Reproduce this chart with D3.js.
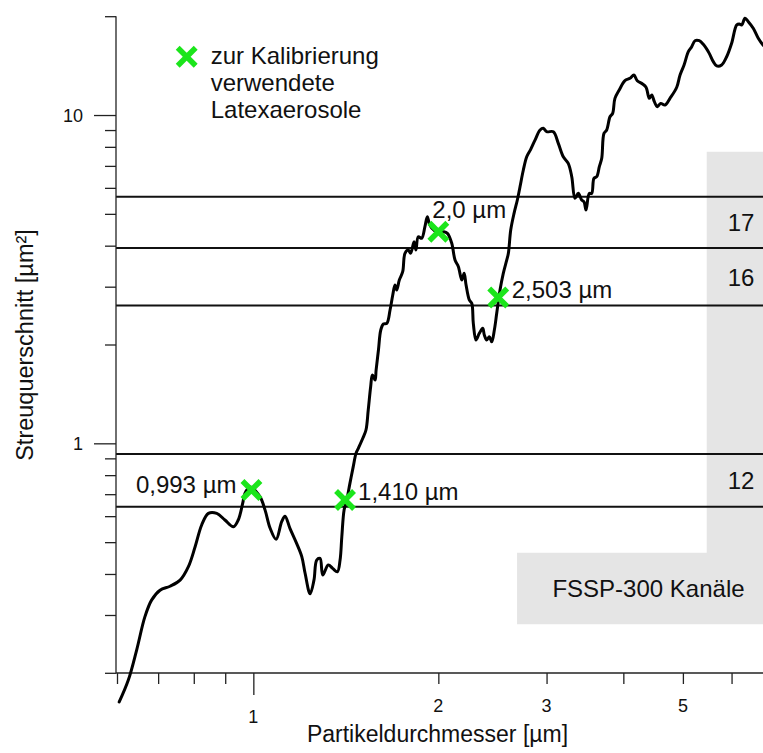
<!DOCTYPE html>
<html>
<head>
<meta charset="utf-8">
<script src="https://cdn.jsdelivr.net/npm/d3@7"></script>
<style>
  html, body { margin: 0; padding: 0; background: #fff; }
  svg { display: block; font-family: "Liberation Sans", Arial, Helvetica, sans-serif; }
</style>
</head>
<body>
<svg id="chart" width="763" height="753"></svg>
<script>
// Response curve: particle diameter (µm) against scattering cross section (µm²)
const diameters = [
  0.605, 0.626, 0.646, 0.666, 0.683, 0.705, 0.732, 0.760, 0.784, 0.804,
  0.824, 0.845, 0.872, 0.899, 0.928, 0.945, 0.961, 0.969, 0.988, 1.025,
  1.045, 1.065, 1.089, 1.112, 1.126, 1.147, 1.176, 1.199, 1.214, 1.237,
  1.255, 1.268, 1.284, 1.297, 1.324, 1.346, 1.370, 1.384, 1.393, 1.405,
  1.419, 1.436, 1.454, 1.469, 1.482, 1.507, 1.525, 1.538, 1.552, 1.562,
  1.578, 1.584, 1.598, 1.612, 1.628, 1.649, 1.669, 1.686, 1.700, 1.711,
  1.728, 1.750, 1.765, 1.787, 1.803, 1.826, 1.839, 1.855, 1.879, 1.902,
  1.919, 1.933, 1.951, 1.988, 2.038, 2.069, 2.103, 2.129, 2.156, 2.184,
  2.203, 2.219, 2.246, 2.267, 2.280, 2.303, 2.332, 2.362, 2.376, 2.398,
  2.421, 2.443, 2.467, 2.489, 2.520, 2.551, 2.584, 2.600, 2.623, 2.656,
  2.689, 2.716, 2.750, 2.785, 2.827, 2.873, 2.928, 2.964, 3.002, 3.077,
  3.135, 3.194, 3.254, 3.297, 3.337, 3.379, 3.422, 3.452, 3.478, 3.521,
  3.553, 3.583, 3.620, 3.656, 3.689, 3.720, 3.758, 3.805, 3.843, 3.876,
  3.939, 4.024, 4.100, 4.162, 4.214, 4.299, 4.355, 4.409, 4.449, 4.493,
  4.543, 4.601, 4.676, 4.764, 4.886, 4.947, 5.022, 5.103, 5.168, 5.233,
  5.317, 5.397, 5.519, 5.603, 5.675, 5.781, 5.891, 6.002, 6.116, 6.176,
  6.232, 6.310, 6.389, 6.508, 6.632, 6.750, 6.929
];
const crossSections = [
  0.163, 0.190, 0.235, 0.296, 0.333, 0.357, 0.367, 0.383, 0.421, 0.484,
  0.564, 0.612, 0.612, 0.584, 0.557, 0.584, 0.657, 0.704, 0.736, 0.688,
  0.626, 0.551, 0.510, 0.577, 0.600, 0.551, 0.496, 0.452, 0.402, 0.348,
  0.383, 0.441, 0.446, 0.397, 0.426, 0.416, 0.406, 0.441, 0.519, 0.626,
  0.672, 0.755, 0.849, 0.932, 0.966, 1.036, 1.098, 1.263, 1.487, 1.614,
  1.559, 1.672, 1.924, 2.214, 2.309, 2.320, 2.547, 2.829, 3.035, 2.931,
  3.144, 3.332, 3.791, 3.880, 3.791, 4.113, 3.880, 4.259, 4.212, 4.568,
  4.899, 4.678, 4.526, 4.410, 4.410, 4.362, 4.067, 3.616, 3.451, 3.144,
  3.295, 3.035, 2.733, 2.669, 2.320, 2.064, 2.163, 2.240, 2.138, 2.064,
  2.112, 2.039, 2.214, 2.489, 2.931, 3.295, 3.616, 3.791, 4.463, 5.018,
  5.509, 6.048, 6.800, 7.464, 7.862, 8.391, 9.000, 9.109, 8.895, 8.895,
  8.199, 7.464, 7.127, 6.489, 5.576, 5.774, 5.509, 5.444, 5.135, 5.774,
  5.774, 6.416, 6.489, 6.959, 7.382, 8.796, 9.000, 9.882, 10.12, 11.24,
  11.92, 12.72, 12.94, 13.24, 12.72, 12.43, 12.15, 11.24, 11.51, 10.98,
  10.60, 10.85, 10.73, 11.24, 12.15, 13.24, 14.21, 15.59, 16.15, 16.84,
  16.84, 16.42, 15.41, 14.54, 14.11, 14.21, 15.05, 16.54, 18.80, 18.93,
  18.80, 19.70, 19.24, 18.37, 17.13, 16.34, 15.56
];

// Latex aerosols used for the calibration
const latexDiameters = [0.993, 1.410, 2.0, 2.503];
const latexSections = [0.721, 0.672, 4.41, 2.78];
const latexLabels = ["0,993 µm", "1,410 µm", "2,0 µm", "2,503 µm"];

// FSSP-300 channel boundaries (cross section, µm²) and the labelled channels
const channelBounds = [0.641, 0.928, 2.629, 3.935, 5.637];
const channelNames = ["12", "16", "17"];
const channelLower = [0.641, 2.629, 3.935];
const channelUpper = [0.928, 3.935, 5.637];

// Axis ticks
const xTickValues = [0.6, 0.7, 0.8, 0.9, 1, 2, 3, 4, 5, 6];
const xMajorTicks = [1];
const xTickLabels = ["1", "2", "3", "5"];
const xLabelValues = [1, 2, 3, 5];
const yTickValues = [0.2, 0.3, 0.4, 0.5, 0.6, 0.7, 0.8, 0.9, 1, 2, 3, 4, 5, 6, 7, 8, 9, 10, 20];
const yMajorTicks = [1, 10];
const yTickLabels = ["1", "10"];

const legendLines = ["zur Kalibrierung", "verwendete", "Latexaerosole"];
const xTitle = "Partikeldurchmesser [µm]";
const yTitle = "Streuquerschnitt [µm²]";
const boxTitle = "FSSP-300 Kanäle";

const svg = d3.select("#chart");
const W = 763, H = 753;
const GREEN = "#1be51b";
const GREY = "#e5e5e5";
const TEXT = "#111";
const NOTE_SIZE = 24;

const x = d3.scaleLog().domain([0.6, 7]).range([117, 772.7]);
const y = d3.scaleLog().domain([0.2, 20]).range([672.8, 16.2]);
const axisX = 116, axisY = 673;

// Grey panel holding the channel numbers
const gx0 = x(5.467), gxBox = x(2.686);
const gyTop = y(7.73), gyStep = y(0.464), gyBottom = y(0.281);
svg.append("path")
  .attr("d", `M${gx0},${gyTop}H${W}V${gyBottom}H${gxBox}V${gyStep}H${gx0}Z`)
  .attr("fill", GREY);
svg.append("text")
  .attr("x", 648.5).attr("y", (gyStep + gyBottom) / 2 + 8.5)
  .attr("text-anchor", "middle").attr("font-size", NOTE_SIZE).attr("fill", TEXT)
  .text(boxTitle);

// Channel boundary lines
svg.append("g").selectAll("line").data(channelBounds).join("line")
  .attr("x1", axisX).attr("x2", W)
  .attr("y1", d => y(d)).attr("y2", d => y(d))
  .attr("stroke", "#111").attr("stroke-width", 2);

// Channel numbers
svg.append("g").selectAll("text").data(channelNames).join("text")
  .attr("x", 741)
  .attr("y", (d, i) => (y(channelLower[i]) + y(channelUpper[i])) / 2 + 9)
  .attr("text-anchor", "middle").attr("font-size", NOTE_SIZE).attr("fill", TEXT)
  .text(d => d);

// Axes
const axisColor = "#222";
const yMinor = d3.axisLeft(y).tickValues(yTickValues.filter(v => !yMajorTicks.includes(v)))
  .tickSize(11).tickFormat("");
const yMajor = d3.axisLeft(y).tickValues(yMajorTicks).tickSize(22).tickFormat("");
const xMinor = d3.axisBottom(x).tickValues(xTickValues.filter(v => !xMajorTicks.includes(v)))
  .tickSize(11).tickFormat("");
const xMajor = d3.axisBottom(x).tickValues(xMajorTicks).tickSize(22).tickFormat("");

function styleAxis(g) {
  g.select(".domain").remove();
  g.selectAll(".tick line").attr("stroke", axisColor).attr("stroke-width", 1.3);
}
svg.append("g").attr("transform", `translate(${axisX},0)`).call(yMinor).call(styleAxis);
svg.append("g").attr("transform", `translate(${axisX},0)`).call(yMajor).call(styleAxis);
svg.append("g").attr("transform", `translate(0,${axisY})`).call(xMinor).call(styleAxis);
svg.append("g").attr("transform", `translate(0,${axisY})`).call(xMajor).call(styleAxis);

svg.append("line").attr("x1", axisX).attr("x2", axisX).attr("y1", y(20)).attr("y2", axisY)
  .attr("stroke", axisColor).attr("stroke-width", 1.3);
svg.append("line").attr("x1", axisX).attr("x2", W).attr("y1", axisY).attr("y2", axisY)
  .attr("stroke", axisColor).attr("stroke-width", 1.3);

// Tick labels
svg.append("g").selectAll("text").data(yTickLabels).join("text")
  .attr("x", 83).attr("y", (d, i) => y(yMajorTicks[i]) + 6.5)
  .attr("text-anchor", "end").attr("font-size", 18).attr("fill", TEXT)
  .text(d => d);
svg.append("g").selectAll("text").data(xTickLabels).join("text")
  .attr("x", (d, i) => x(xLabelValues[i]))
  .attr("y", (d, i) => axisY + (xMajorTicks.includes(xLabelValues[i]) ? 22 : 11) + 28)
  .attr("text-anchor", "middle").attr("font-size", 18).attr("fill", TEXT)
  .text(d => d);

// Axis titles
svg.append("text").attr("x", 437.5).attr("y", 742)
  .attr("text-anchor", "middle").attr("font-size", 23).attr("fill", TEXT)
  .text(xTitle);
svg.append("text").attr("transform", "translate(33,345) rotate(-90)")
  .attr("text-anchor", "middle").attr("font-size", 23.5).attr("fill", TEXT)
  .text(yTitle);

// Response curve
const curve = diameters.map((d, i) => [d, crossSections[i]]);
svg.append("path")
  .datum(curve)
  .attr("d", d3.line().x(d => x(d[0])).y(d => y(d[1])).curve(d3.curveCatmullRom.alpha(0.5)))
  .attr("fill", "none").attr("stroke", "#000").attr("stroke-width", 3)
  .attr("stroke-linejoin", "round").attr("stroke-linecap", "round");

// Calibration markers and their labels
const cross = d3.symbol(d3.symbolX).size(213);
svg.append("g").selectAll("path").data(latexDiameters).join("path")
  .attr("transform", (d, i) => `translate(${x(d)},${y(latexSections[i])})`)
  .attr("d", cross())
  .attr("fill", "none").attr("stroke", GREEN).attr("stroke-width", 5.5);

const labelPlacement = [
  { dx: -15, dy: 3, anchor: "end" },
  { dx: 13, dy: 0, anchor: "start" },
  { dx: -6, dy: -14, anchor: "start" },
  { dx: 13.5, dy: 0, anchor: "start" }
];
svg.append("g").selectAll("text").data(latexLabels).join("text")
  .attr("x", (d, i) => x(latexDiameters[i]) + labelPlacement[i].dx)
  .attr("y", (d, i) => y(latexSections[i]) + labelPlacement[i].dy)
  .attr("text-anchor", (d, i) => labelPlacement[i].anchor)
  .attr("font-size", NOTE_SIZE).attr("fill", TEXT)
  .text(d => d);

// Legend
svg.append("path").attr("transform", "translate(186.7,56.7)").attr("d", cross())
  .attr("fill", "none").attr("stroke", GREEN).attr("stroke-width", 5.5);
svg.append("g").selectAll("text").data(legendLines).join("text")
  .attr("x", 210.7).attr("y", (d, i) => 64 + i * 27)
  .attr("font-size", NOTE_SIZE).attr("fill", TEXT)
  .text(d => d);
</script>
</body>
</html>
